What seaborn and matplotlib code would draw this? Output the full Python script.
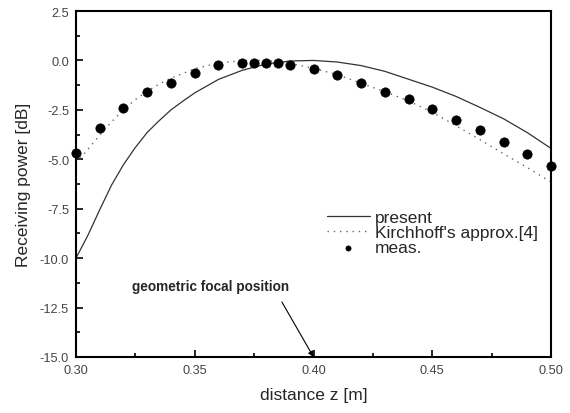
import matplotlib
matplotlib.use("Agg")
import matplotlib.pyplot as plt
import seaborn as sns
import pandas as pd

# ---- data ----
present_z = [0.300, 0.305, 0.310, 0.315, 0.320, 0.325, 0.330, 0.335, 0.340, 0.345,
             0.350, 0.360, 0.370, 0.380, 0.390, 0.400, 0.410, 0.420, 0.430, 0.440,
             0.450, 0.460, 0.470, 0.480, 0.490, 0.500]
present_db = [-10.0, -8.85, -7.55, -6.30, -5.27, -4.40, -3.64, -3.05, -2.50, -2.06,
              -1.64, -0.96, -0.50, -0.18, -0.03, 0.00, -0.08, -0.26, -0.55, -0.95,
              -1.35, -1.82, -2.37, -2.95, -3.65, -4.45]

kirch_z = [0.300, 0.305, 0.310, 0.315, 0.320, 0.325, 0.330, 0.335, 0.340, 0.350,
           0.360, 0.370, 0.380, 0.390, 0.400, 0.410, 0.420, 0.430, 0.440, 0.450,
           0.460, 0.470, 0.480, 0.490, 0.500]
kirch_db = [-5.20, -4.50, -3.78, -3.10, -2.50, -1.98, -1.55, -1.20, -0.90, -0.42,
            -0.13, -0.01, 0.00, -0.14, -0.40, -0.72, -1.15, -1.58, -2.05, -2.62,
            -3.30, -4.00, -4.72, -5.42, -6.15]

meas_z = [0.300, 0.310, 0.320, 0.330, 0.340, 0.350, 0.360, 0.370, 0.375, 0.380,
          0.385, 0.390, 0.400, 0.410, 0.420, 0.430, 0.440, 0.450, 0.460, 0.470,
          0.480, 0.490, 0.500]
meas_db = [-4.70, -3.42, -2.42, -1.62, -1.13, -0.63, -0.22, -0.12, -0.12, -0.12,
           -0.12, -0.22, -0.41, -0.73, -1.13, -1.62, -1.93, -2.44, -3.03, -3.52,
           -4.15, -4.74, -5.35]

series_labels = ["present", "Kirchhoff's approx.[4]", "meas."]
x_ticks = [0.30, 0.35, 0.40, 0.45, 0.50]
y_ticks = [-15.0, -12.5, -10.0, -7.5, -5.0, -2.5, 0.0, 2.5]
annot_text = "geometric focal position"
focal_z = 0.40

df_present = pd.DataFrame({"z": present_z, "db": present_db})
df_kirch = pd.DataFrame({"z": kirch_z, "db": kirch_db})
df_meas = pd.DataFrame({"z": meas_z, "db": meas_db})

sns.set_style("ticks")
plt.rcParams["font.family"] = ["Liberation Sans", "DejaVu Sans"]

fig = plt.figure(figsize=(5.7, 4.14), dpi=100)
ax = fig.add_axes([0.1333, 0.1353, 0.8334, 0.8357])

sns.lineplot(data=df_present, x="z", y="db", ax=ax, color="#333333", lw=0.9,
             label=series_labels[0])
sns.lineplot(data=df_kirch, x="z", y="db", ax=ax, color="#666666", lw=1.0,
             linestyle=(0, (1, 3.5)), label=series_labels[1])
sns.scatterplot(data=df_meas, x="z", y="db", ax=ax, color="black", s=45,
                marker="o", edgecolor="black", linewidth=0.5, label=series_labels[2],
                zorder=3, clip_on=False)

ax.set_xlim(0.30, 0.50)
ax.set_ylim(-15.0, 2.5)
ax.set_xticks(x_ticks)
ax.set_xticklabels([f"{v:.2f}" for v in x_ticks])
ax.set_yticks(y_ticks)
ax.set_yticklabels([f"{v:.1f}" for v in y_ticks])
ax.set_xticks([0.325, 0.375, 0.425, 0.475], minor=True)
ax.set_yticks([-13.75, -11.25, -8.75, -6.25, -3.75, -1.25, 1.25], minor=True)

ax.tick_params(axis="both", which="major", direction="in", length=5, width=1.2,
               labelsize=9.2, labelcolor="#444444", color="black",
               top=False, right=False, pad=5)
ax.tick_params(axis="both", which="minor", direction="in", length=3, width=1.2,
               color="black", top=False, right=False)

for side in ["left", "bottom", "top", "right"]:
    ax.spines[side].set_visible(True)
    ax.spines[side].set_color("black")
    ax.spines[side].set_linewidth(1.5)

ax.set_xlabel("distance z [m]", fontsize=12.5, labelpad=8)
ax.set_ylabel("Receiving power [dB]", fontsize=12.5, labelpad=6)

ax.text(0.3236, -11.4, annot_text, fontsize=9.8, fontweight="bold",
        ha="left", va="center")
ax.annotate("", xy=(focal_z, -15.0), xytext=(0.3867, -12.22),
            arrowprops=dict(arrowstyle="-|>", color="black", lw=0.8,
                            shrinkA=0, shrinkB=0, mutation_scale=8))

leg = ax.legend(loc="upper left", bbox_to_anchor=(0.502, 0.461), frameon=False,
                fontsize=12.5, handlelength=2.5, handletextpad=0.3,
                labelspacing=0.0, borderpad=0.2)
leg.legend_handles[2].set_sizes([14])

fig.savefig("out.png", dpi=100)
